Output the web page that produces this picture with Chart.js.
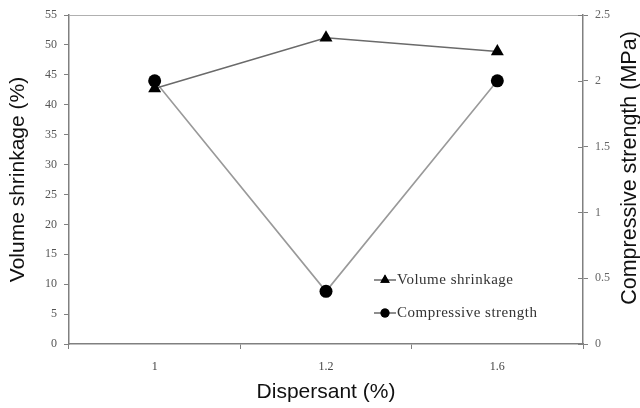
<!DOCTYPE html>
<html>
<head>
<meta charset="utf-8">
<script src="https://cdn.jsdelivr.net/npm/chart.js@4/dist/chart.umd.min.js"></script>
<style>
	html, body { margin: 0; padding: 0; background: #fff; }
	#wrap { width: 640px; height: 408px; }
</style>
</head>
<body>
<div id="wrap"><canvas id="chart"></canvas></div>
<script>

var dispersant = ['1', '1.2', '1.6'];
var volume_shrinkage = [42.7, 51.2, 48.9];
var compressive_strength = [2.0, 0.4, 2.0];

var shrinkage_ticks = [0, 5, 10, 15, 20, 25, 30, 35, 40, 45, 50, 55];
var strength_ticks = [0, 0.5, 1, 1.5, 2, 2.5];

var AXIS_COLOR = '#808080';
var TICK_FONT = { family: '"Liberation Serif", "Times New Roman", serif', size: 12 };
var TITLE_FONT = { family: '"Liberation Sans", Arial, sans-serif', size: 21 };

//legend sits inside the plot, lower right, like the original
var legendInPlot = {
	id: 'legendInPlot',
	afterDatasetsDraw: function(chart){
		var ctx = chart.ctx;
		var rows = [280, 313];
		var x0 = 374, x1 = 396;

		ctx.save();
		chart.data.datasets.forEach(function(ds, i){
			var y = rows[i];
			ctx.strokeStyle = '#444';
			ctx.lineWidth = 1.2;
			ctx.beginPath();
			ctx.moveTo(x0, y);
			ctx.lineTo(x1, y);
			ctx.stroke();

			Chart.helpers.drawPoint(ctx, {
				pointStyle: ds.pointStyle,
				radius: ds.pointStyle == 'triangle' ? 5.5 : 4.5,
				borderWidth: 0
			}, (x0 + x1) / 2, y);
			ctx.fillStyle = '#000';
			ctx.fill();

			ctx.fillStyle = '#333';
			ctx.font = '15px "Liberation Serif", "Times New Roman", serif';
			ctx.letterSpacing = '0.5px';
			ctx.textAlign = 'left';
			ctx.textBaseline = 'middle';
			ctx.fillText(ds.label, x1 + 1, y);
		});
		ctx.restore();
	}
};

//frame top line, inner half of right ticks, right title read bottom-to-top
var frameExtras = {
	id: 'frameExtras',
	afterDraw: function(chart){
		var ctx = chart.ctx;
		var area = chart.chartArea;
		var y1 = chart.scales.y1;

		ctx.save();
		ctx.strokeStyle = '#b0b0b0';
		ctx.lineWidth = 1;
		ctx.beginPath();
		ctx.moveTo(area.left, area.top + 0.5);
		ctx.lineTo(area.right, area.top + 0.5);
		ctx.stroke();

		ctx.strokeStyle = AXIS_COLOR;
		y1.ticks.forEach(function(t){
			var py = Math.round(y1.getPixelForValue(t.value)) + 0.5;
			ctx.beginPath();
			ctx.moveTo(area.right - 5, py);
			ctx.lineTo(area.right, py);
			ctx.stroke();
		});

		ctx.translate(630, 168);
		ctx.rotate(-Math.PI / 2);
		ctx.fillStyle = '#111';
		ctx.font = '21.5px "Liberation Sans", Arial, sans-serif';
		ctx.textAlign = 'center';
		ctx.textBaseline = 'middle';
		ctx.fillText(y1.options.title.text, 0, 0);
		ctx.restore();
	}
};

var chart = new Chart(document.getElementById('chart'), {
	type: 'line',
	data: {
		labels: dispersant,
		datasets: [{
			label: 'Volume shrinkage',
			data: volume_shrinkage,
			yAxisID: 'y',
			borderColor: '#6a6a6a',
			borderWidth: 1.6,
			pointStyle: 'triangle',
			pointRadius: 7.5,
			pointBackgroundColor: '#000',
			pointBorderColor: '#000',
			pointBorderWidth: 0,
			tension: 0
		}, {
			label: 'Compressive strength',
			data: compressive_strength,
			yAxisID: 'y1',
			borderColor: '#9a9a9a',
			borderWidth: 1.6,
			pointStyle: 'circle',
			pointRadius: 6.5,
			pointBackgroundColor: '#000',
			pointBorderColor: '#000',
			pointBorderWidth: 0,
			tension: 0
		}]
	},
	options: {
		responsive: true,
		maintainAspectRatio: false,
		animation: false,
		layout: { padding: { top: 15 } },
		plugins: {
			legend: { display: false },
			tooltip: { enabled: false }
		},
		scales: {
			x: {
				type: 'category',
				offset: true,
				grid: { offset: true, drawOnChartArea: false, drawTicks: true, tickLength: 5, color: AXIS_COLOR },
				border: { display: true, color: AXIS_COLOR, width: 1.5 },
				ticks: { font: TICK_FONT, color: '#444', padding: 11, maxRotation: 0 },
				title: { display: true, text: 'Dispersant (%)', font: TITLE_FONT, color: '#111', padding: { bottom: 3 } },
				afterFit: function(scale){ scale.height = 64; }
			},
			y: {
				position: 'left',
				min: 0,
				max: 55,
				afterBuildTicks: function(scale){
					scale.ticks = shrinkage_ticks.map(function(v){ return { value: v }; });
				},
				grid: { drawOnChartArea: false, drawTicks: true, tickLength: 5, color: AXIS_COLOR },
				border: { display: true, color: AXIS_COLOR, width: 1.5 },
				ticks: { font: TICK_FONT, color: '#555', padding: 7 },
				title: { display: true, text: 'Volume shrinkage (%)', font: TITLE_FONT, color: '#111', padding: { top: 6 } },
				afterFit: function(scale){ scale.width = 69; }
			},
			y1: {
				position: 'right',
				min: 0,
				max: 2.5,
				afterBuildTicks: function(scale){
					scale.ticks = strength_ticks.map(function(v){ return { value: v }; });
				},
				grid: { drawOnChartArea: false, drawTicks: true, tickLength: 5, color: AXIS_COLOR },
				border: { display: true, color: AXIS_COLOR, width: 1.5 },
				ticks: {
					font: TICK_FONT,
					color: '#666',
					padding: 7,
					callback: function(value){ return String(value); }
				},
				title: { display: false, text: 'Compressive strength (MPa)' },
				afterFit: function(scale){ scale.width = 57; }
			}
		}
	},
	plugins: [legendInPlot, frameExtras]
});
</script>
</body>
</html>
